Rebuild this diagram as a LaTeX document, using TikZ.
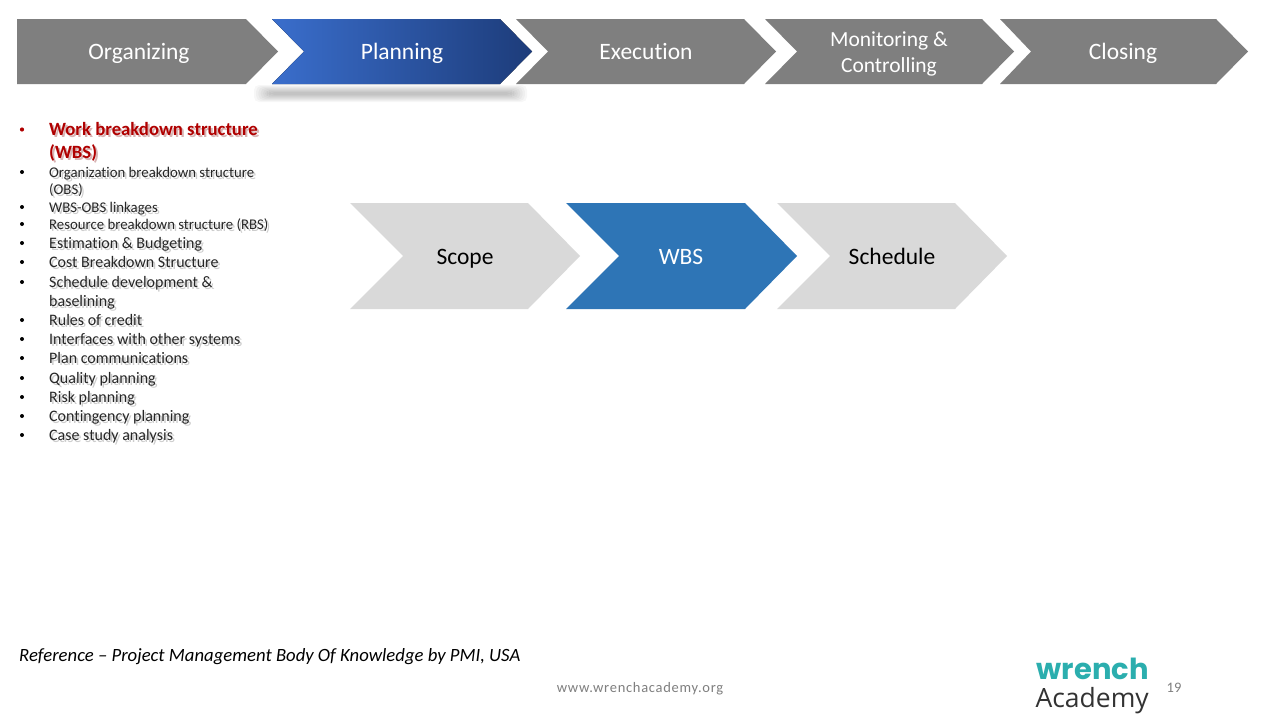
\documentclass[tikz,border=0pt]{standalone}
\usepackage{fontspec}
\setmainfont{Carlito}[RawFeature={-liga,-clig}]
\newfontfamily\logofont{Poppins}
\newfontfamily\acadfont{Open Sans}
\newfontfamily\webfont{Carlito}[LetterSpace=5,RawFeature={-liga}]
\definecolor{chevgray}{HTML}{7F7F7F}
\definecolor{lightchev}{HTML}{D9D9D9}
\definecolor{wbsblue}{HTML}{2E75B6}
\definecolor{wbsred}{HTML}{B00000}
\definecolor{redshadow}{HTML}{D8B4B4}
\definecolor{logoteal}{HTML}{2BAEAE}
\definecolor{softgray}{HTML}{7F7F7F}
\newcommand{\shad}[2][black!20]{\leavevmode\rlap{\raisebox{-2pt}{\hspace{2pt}\textcolor{#1}{#2}}}#2}
\tikzset{
  x=1pt,y=-1pt,
  headtext/.style={anchor=base,text=white,font=\fontsize{23.5}{26}\selectfont,align=center,inner sep=0pt},
  midtext/.style={anchor=base,font=\fontsize{23.5}{26}\selectfont,inner sep=0pt},
  item/.style={anchor=base west,inner sep=0pt,align=left,text=black!85,font=\fontsize{16}{19}\selectfont},
  smallitem/.style={item,font=\fontsize{14.8}{17}\selectfont}
}
\begin{document}
\begin{tikzpicture}
\useasboundingbox (0,0) rectangle (1280,720);
\fill[white] (0,0) rectangle (1280,720);
% shadow under Planning
\foreach \i in {0,1,...,7}{
  \fill[black,opacity=.03,rounded corners=5pt] ({254+2.2*\i},{85+\i}) rectangle ({527-2.2*\i},{102-\i});
}
% top chevrons
\fill[chevgray] (17,19) -- (246,19) -- (278,51.5) -- (246,84) -- (17,84) -- cycle;
\fill[left color={rgb,255:red,58;green,110;blue,204},right color={rgb,255:red,29;green,60;blue,122}] (272,19) -- (500,19) -- (532,51.5) -- (500,84) -- (272,84) -- (304,51.5) -- cycle;
\fill[chevgray] (516,19) -- (744,19) -- (776,51.5) -- (744,84) -- (516,84) -- (548,51.5) -- cycle;
\fill[chevgray] (765,19) -- (982,19) -- (1014,51.5) -- (982,84) -- (765,84) -- (797,51.5) -- cycle;
\fill[chevgray] (1000,19) -- (1216,19) -- (1248,51.5) -- (1216,84) -- (1000,84) -- (1031,51.5) -- cycle;
\node[headtext] (organizing) at (139,59.5) {Organizing};
\node[headtext] (planning) at (402,59.5) {Planning};
\node[headtext] (execution) at (646,59.5) {Execution};
\node[headtext,font=\fontsize{21.5}{26}\selectfont] (monitoring) at (889,72) {Monitoring \&\\Controlling};
\node[headtext] (closing) at (1123,59.5) {Closing};
% middle chevrons
\fill[lightchev] (350,203) -- (528,203) -- (580,256) -- (528,309) -- (350,309) -- (403,256) -- cycle;
\fill[wbsblue] (566,203) -- (745,203) -- (797,256) -- (745,309) -- (566,309) -- (619,256) -- cycle;
\fill[lightchev] (777,203) -- (955,203) -- (1007,256) -- (955,309) -- (777,309) -- (830,256) -- cycle;
\node[midtext] (scope) at (465,264.5) {Scope};
\node[midtext,text=white] (wbs) at (681,264.5) {WBS};
\node[midtext] (schedule) at (892,264.5) {Schedule};
% list
\node[item,text=wbsred,font=\bfseries\fontsize{18.7}{23}\selectfont] (i1) at (49,158) {\shad[redshadow]{Work breakdown structure}\\\shad[redshadow]{(WBS)}};
\fill[wbsred] (22,129.5) circle (2.1);
\node[smallitem] (i2) at (49,194) {\shad{Organization breakdown structure}\\\shad{(OBS)}};
\node[smallitem] (i3) at (49,212) {\shad{WBS-OBS linkages}};
\node[smallitem] (i4) at (49,229) {\shad{Resource breakdown structure (RBS)}};
\node[item] (i5) at (49,248) {\shad{Estimation \& Budgeting}};
\node[item] (i6) at (49,267) {\shad{Cost Breakdown Structure}};
\node[item] (i7) at (49,306) {\shad{Schedule development \&}\\\shad{baselining}};
\node[item] (i8) at (49,325) {\shad{Rules of credit}};
\node[item] (i9) at (49,344) {\shad{Interfaces with other systems}};
\node[item] (i10) at (49,363) {\shad{Plan communications}};
\node[item] (i11) at (49,383) {\shad{Quality planning}};
\node[item] (i12) at (49,402) {\shad{Risk planning}};
\node[item] (i13) at (49,421) {\shad{Contingency planning}};
\node[item] (i14) at (49,440) {\shad{Case study analysis}};
\foreach \y in {172,207,224,243,262,282,320,339,358,378,397,416,435}{
  \fill[black] (22,\y) circle (2);
}
% footer
\node[anchor=base west,inner sep=0pt,font=\itshape\fontsize{18.7}{22}\selectfont] (ref) at (19,661) {Reference -- Project Management Body Of Knowledge by PMI, USA};
\node[anchor=base,inner sep=0pt,text=softgray,font=\webfont\fontsize{14.5}{18}\selectfont] (web) at (640,692) {www.wrenchacademy.org};
\node[anchor=base,inner sep=0pt,text=softgray,font=\fontsize{14.5}{18}\selectfont] (page) at (1174,692) {19};
\node[anchor=base east,inner sep=0pt,text=logoteal,font=\logofont\bfseries\fontsize{29}{36}\selectfont] (wrench) at (1149,679) {wrench};
\node[anchor=base east,inner sep=0pt,text=black!80,font=\acadfont\fontsize{26.5}{30}\selectfont] (academy) at (1149,707) {Academy};
\end{tikzpicture}
\end{document}
